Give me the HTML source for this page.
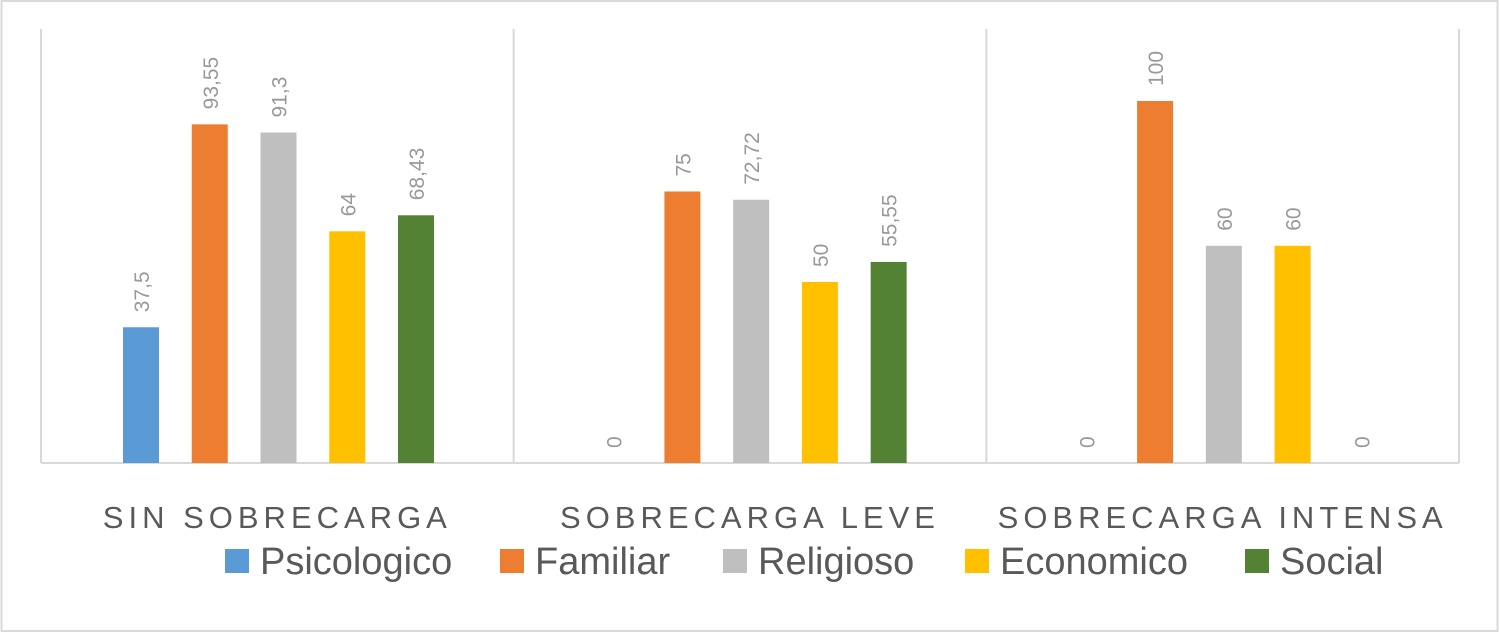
<!DOCTYPE html>
<html><head><meta charset="utf-8"><style>
body{margin:0;background:#fff;}
svg{display:block;font-family:"Liberation Sans",sans-serif;}
</style></head><body>
<svg id="chart" width="1500" height="634" viewBox="0 0 1500 634">
<rect x="1.5" y="1" width="1496" height="630" fill="#fff" stroke="#d9d9d9" stroke-width="2"/>
<g id="plot"></g>
<g id="legend"></g>
</svg>
<script>
const categories=["SIN SOBRECARGA","SOBRECARGA LEVE","SOBRECARGA INTENSA"];
const seriesNames=["Psicologico","Familiar","Religioso","Economico","Social"];
const psicologico=[37.5,0,0];
const familiar=[93.55,75,100];
const religioso=[91.3,72.72,60];
const economico=[64,50,60];
const social=[68.43,55.55,0];
const valueLabels=[["37,5","93,55","91,3","64","68,43"],["0","75","72,72","50","55,55"],["0","100","60","60","0"]];
const colors=["#5b9bd5","#ed7d31","#bfbfbf","#ffc000","#548235"];
const barColors=["#5b9bd5","#ed7d31","#bfbfbf","#ffc000","#548235"];
const series=[psicologico,familiar,religioso,economico,social];
const NS="http://www.w3.org/2000/svg";
const x0=41,x1=1459,yBase=463,yTop=29,scale=3.62;
const gw=(x1-x0)/categories.length;
const y=v=>yBase-v*scale;
const plot=document.getElementById('plot');
function mk(t,a,p){const e=document.createElementNS(NS,t);for(const k in a)e.setAttribute(k,a[k]);(p||plot).appendChild(e);return e;}
for(let g=0;g<=categories.length;g++){
 const l=mk('line',{x1:x0+g*gw,x2:x0+g*gw,y1:yTop,y2:yBase,stroke:'#d9d9d9','stroke-width':2});
 
 
}
const ax=mk('line',{x1:x0,x2:x1,y1:yBase,y2:yBase,stroke:'#d9d9d9','stroke-width':2});


categories.forEach((c,g)=>{
 series.forEach((s,i)=>{
  const cx=x0+g*gw+100+i*68.75;const v=s[g];
  if(v>0){const r=mk('rect',{x:cx-18,y:y(v),width:36,height:v*scale,fill:barColors[i]});
  
  }
  const t=mk('text',{transform:`translate(${cx+8},${y(v)-15}) rotate(-90)`,fill:'#999','font-size':21});
  t.textContent=valueLabels[g][i];
  
  
 });
 const ct=mk('text',{x:x0+g*gw+gw/2,y:528,'text-anchor':'middle',fill:'#595959','font-size':31,'letter-spacing':5});
 ct.textContent=c;
 
 
});
const leg=document.getElementById('legend');
const legX=[225,500,723,965,1245];
seriesNames.forEach((n,i)=>{
 const r=mk('rect',{x:legX[i],y:549,width:24,height:24,fill:colors[i]},leg);
 
 
 const t=mk('text',{x:legX[i]+35,y:574,fill:'#595959','font-size':38},leg);
 t.textContent=n;
 
 
});
</script>
</body></html>
